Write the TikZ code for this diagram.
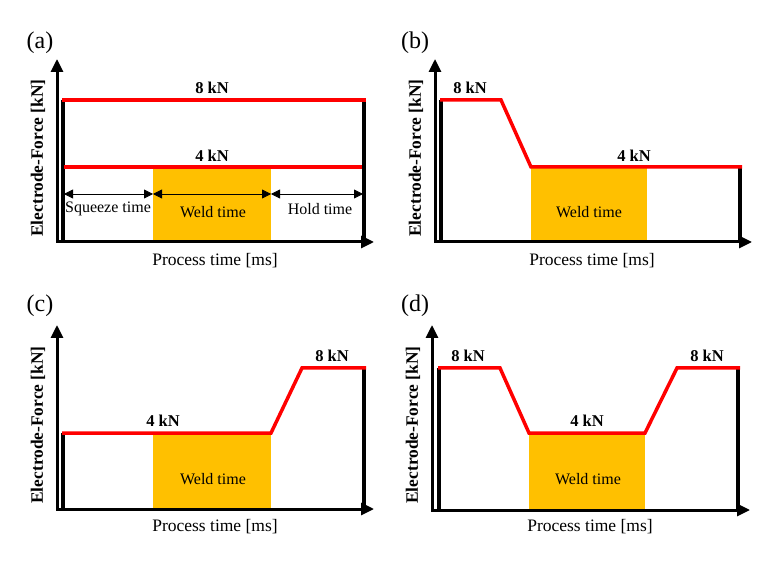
\documentclass[tikz,border=0pt]{standalone}
\usepackage{fontspec}
\setmainfont{Liberation Serif}
\usetikzlibrary{arrows.meta}
\definecolor{weld}{HTML}{FFC000}
\definecolor{fred}{HTML}{FF0000}
\tikzset{
  axis/.style={line width=3pt,{Triangle[length=13pt,width=12pt]}-{Triangle[length=13pt,width=12pt]}},
  wall/.style={line width=3.5pt,black},
  force/.style={line width=3.5pt,fred,line join=miter},
  weldbox/.style={fill=weld,draw=none},
  dim/.style={line width=0.8pt,{Triangle[length=9pt,width=9pt]}-{Triangle[length=9pt,width=9pt]}},
  lbl/.style={font=\fontsize{16}{18}\selectfont,inner sep=0pt},
  kn/.style={font=\fontsize{16.5}{18}\selectfont\bfseries,inner sep=0pt},
  axlbl/.style={font=\fontsize{17.5}{20}\selectfont,inner sep=0pt},
  ylbl/.style={font=\fontsize{17.4}{20}\selectfont\bfseries,inner sep=0pt,rotate=90},
  tag/.style={font=\fontsize{24}{26}\selectfont,inner sep=0pt}
}
\begin{document}
\begin{tikzpicture}[x=1pt,y=-1pt]
\useasboundingbox (0,0) rectangle (774,561);
% ===== panel (a)
\fill[weldbox] (153,167) rectangle (271,242);
\coordinate (aO) at (57,242); \coordinate (aX) at (374,242); \coordinate (aY) at (57,59);
\draw[axis] (aX) -- (aO) -- (aY);
\coordinate (aL1) at (63,242); \coordinate (aL2) at (63,100);
\coordinate (aR1) at (364,242); \coordinate (aR2) at (364,100);
\draw[wall] (aL1) -- (aL2);
\draw[wall] (aR1) -- (aR2);
\coordinate (a8a) at (62,100); \coordinate (a8b) at (366,100);
\coordinate (a4a) at (64,167); \coordinate (a4b) at (362,167);
\draw[force] (a8a) -- (a8b);
\draw[force] (a4a) -- (a4b);
\coordinate (ad0) at (64,194); \coordinate (ad1) at (153,194);
\coordinate (ad2) at (271,194); \coordinate (ad3) at (363,194);
\draw[dim] (ad0) -- (ad1);
\draw[dim] (ad1) -- (ad2);
\draw[dim] (ad2) -- (ad3);
\node[lbl] (asq) at (108,209) {Squeeze time};
\node[lbl] (awt) at (213,212) {Weld time};
\node[lbl] (aho) at (320,209) {Hold time};
\node[kn] (a8) at (212,88) {8 kN};
\node[kn] (a4) at (212,156) {4 kN};
\node[tag] (atag) at (40,43) {(a)};
\node[ylbl] (ay) at (38,158) {Electrode-Force [kN]};
\node[axlbl] (ax) at (215,261) {Process time [ms]};
% ===== panel (b)
\fill[weldbox] (531,167) rectangle (647,242);
\coordinate (bO) at (435,242); \coordinate (bX) at (752,242); \coordinate (bY) at (435,59);
\draw[axis] (bX) -- (bO) -- (bY);
\coordinate (bL1) at (441,242); \coordinate (bL2) at (441,100);
\coordinate (bR1) at (740,242); \coordinate (bR2) at (740,167);
\draw[wall] (bL1) -- (bL2);
\draw[wall] (bR1) -- (bR2);
\coordinate (bp1) at (440,100); \coordinate (bp2) at (501,100);
\coordinate (bp3) at (531,167); \coordinate (bp4) at (742,167);
\draw[force] (bp1) -- (bp2) -- (bp3) -- (bp4);
\node[lbl] (bwt) at (589,212) {Weld time};
\node[kn] (b8) at (470,88) {8 kN};
\node[kn] (b4) at (634,156) {4 kN};
\node[tag] (btag) at (415,43) {(b)};
\node[ylbl] (by) at (416,158) {Electrode-Force [kN]};
\node[axlbl] (bx) at (592,261) {Process time [ms]};
% ===== panel (c)
\fill[weldbox] (153,433) rectangle (271,509);
\coordinate (cO) at (57,509); \coordinate (cX) at (374,509); \coordinate (cY) at (57,325);
\draw[axis] (cX) -- (cO) -- (cY);
\coordinate (cL1) at (63,509); \coordinate (cL2) at (63,433);
\coordinate (cR1) at (364,509); \coordinate (cR2) at (364,368);
\draw[wall] (cL1) -- (cL2);
\draw[wall] (cR1) -- (cR2);
\coordinate (cp1) at (62,433); \coordinate (cp2) at (271,433);
\coordinate (cp3) at (302,368); \coordinate (cp4) at (366,368);
\draw[force] (cp1) -- (cp2) -- (cp3) -- (cp4);
\node[lbl] (cwt) at (213,479) {Weld time};
\node[kn] (c4) at (163,421) {4 kN};
\node[kn] (c8) at (332,356) {8 kN};
\node[tag] (ctag) at (40,306) {(c)};
\node[ylbl] (cy) at (38,425) {Electrode-Force [kN]};
\node[axlbl] (cx) at (215,527) {Process time [ms]};
% ===== panel (d)
\fill[weldbox] (529,433) rectangle (645,510);
\coordinate (dO) at (432,510); \coordinate (dX) at (750,510); \coordinate (dY) at (432,325);
\draw[axis] (dX) -- (dO) -- (dY);
\coordinate (dL1) at (439,510); \coordinate (dL2) at (439,368);
\coordinate (dR1) at (738,510); \coordinate (dR2) at (738,368);
\draw[wall] (dL1) -- (dL2);
\draw[wall] (dR1) -- (dR2);
\coordinate (dp1) at (438,368); \coordinate (dp2) at (500,368);
\coordinate (dp3) at (529,433); \coordinate (dp4) at (645,433);
\coordinate (dp5) at (677,368); \coordinate (dp6) at (740,368);
\draw[force] (dp1) -- (dp2) -- (dp3) -- (dp4) -- (dp5) -- (dp6);
\node[lbl] (dwt) at (588,479) {Weld time};
\node[kn] (d8l) at (468,356) {8 kN};
\node[kn] (d8r) at (707,356) {8 kN};
\node[kn] (d4) at (587,421) {4 kN};
\node[tag] (dtag) at (415,306) {(d)};
\node[ylbl] (dy) at (413,425) {Electrode-Force [kN]};
\node[axlbl] (dx) at (590,527) {Process time [ms]};
\end{tikzpicture}
\end{document}
